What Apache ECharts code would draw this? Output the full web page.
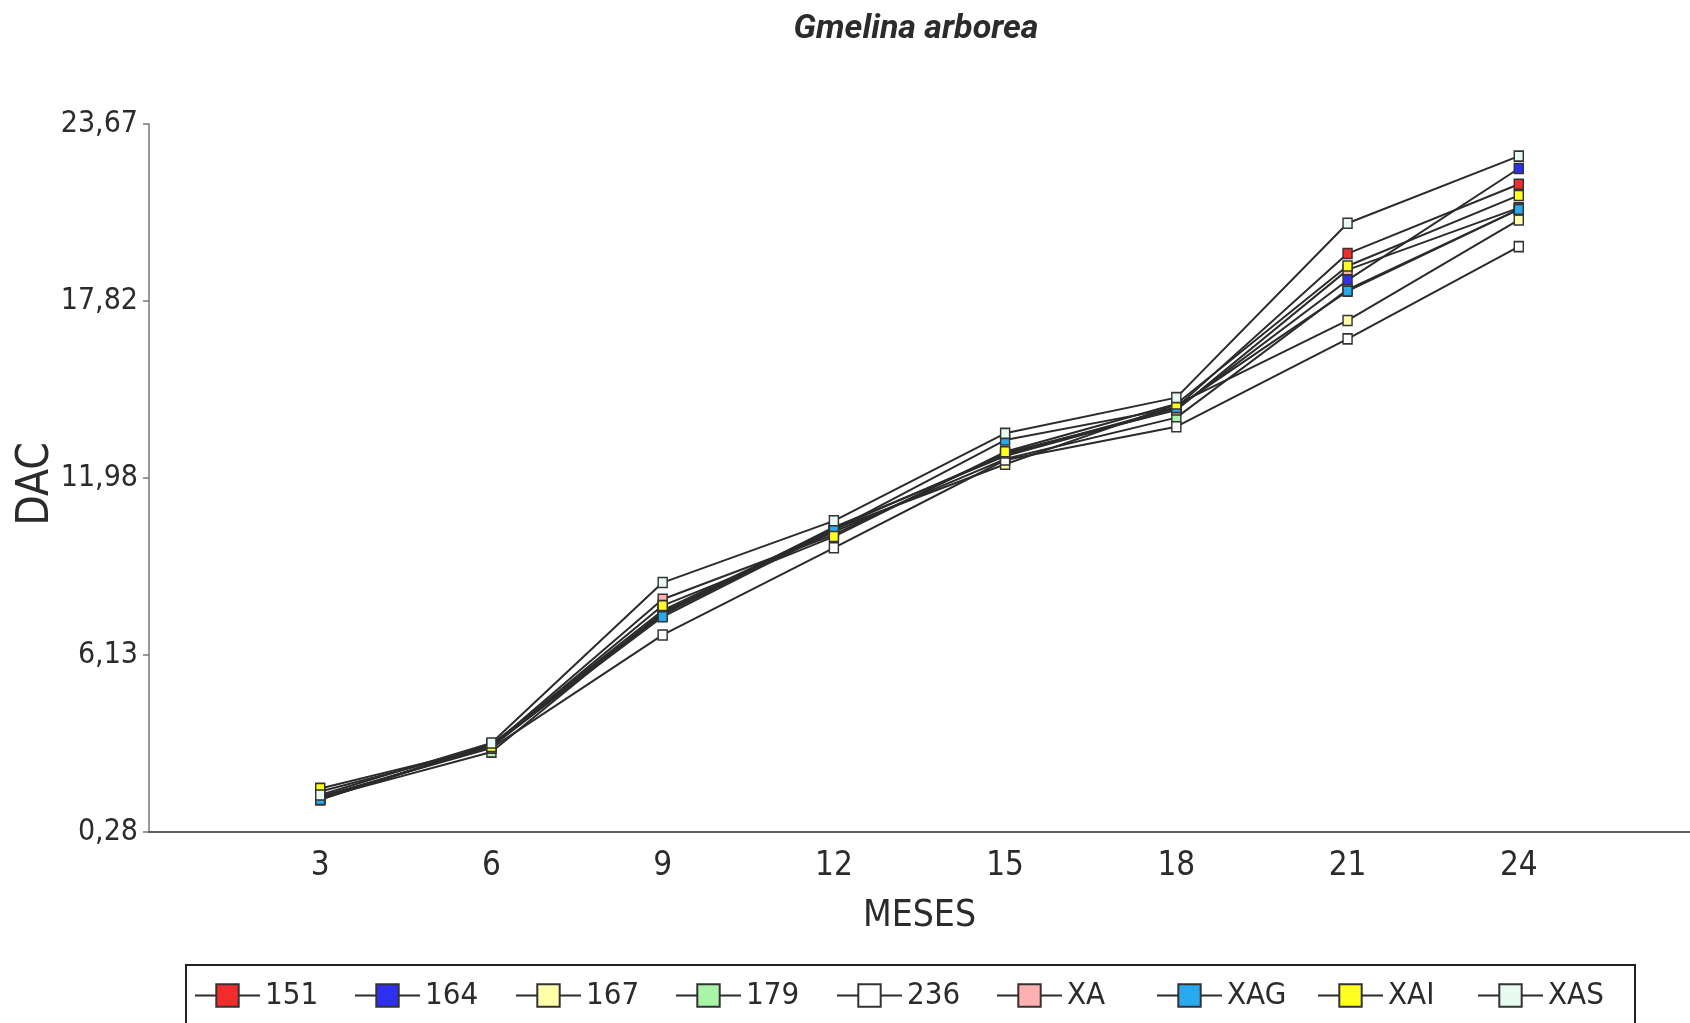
<!DOCTYPE html>
<html>
<head>
<meta charset="utf-8">
<title>Gmelina arborea</title>
<script src="https://cdn.jsdelivr.net/npm/echarts@6/dist/echarts.min.js"></script>
<style>
  html, body { margin: 0; padding: 0; background: #fff; }
  #chart { width: 1690px; height: 1023px; }
</style>
</head>
<body>
<div id="chart"></div>
<script>
// Months of measurement
const months = [3, 6, 9, 12, 15, 18, 21, 24];

// DAC by clone / treatment
const s151 = [1.40, 3.15, 7.60, 10.30, 12.75, 14.30, 19.39, 21.68];
const s164 = [1.35, 3.18, 7.50, 10.35, 12.70, 14.25, 18.51, 22.20];
const s167 = [1.62, 3.10, 7.45, 10.29, 12.43, 14.40, 17.18, 20.50];
const s179 = [1.40, 2.92, 7.55, 10.20, 12.60, 13.97, 18.20, 20.85];
const s236 = [1.45, 3.05, 6.79, 9.67, 12.57, 13.67, 16.57, 19.62];
const sXA  = [1.38, 3.12, 7.97, 10.10, 12.80, 14.22, 18.85, 20.90];
const sXAG = [1.35, 3.15, 7.39, 10.25, 13.23, 14.30, 18.15, 20.85];
const sXAI = [1.72, 3.10, 7.76, 10.04, 12.84, 14.42, 18.98, 21.31];
const sXAS = [1.50, 3.22, 8.52, 10.56, 13.45, 14.63, 20.39, 22.61];

const seriesNames = ['151', '164', '167', '179', '236', 'XA', 'XAG', 'XAI', 'XAS'];
const seriesValues = [s151, s164, s167, s179, s236, sXA, sXAG, sXAI, sXAS];
const seriesColors = ['#f22b2b', '#2f2ff2', '#ffffaa', '#a8f5a8', '#ffffff', '#ffb0b0', '#2aaaee', '#ffff22', '#e8fbf0'];

// Axis ticks
const yTicks = [0.28, 6.13, 11.98, 17.82, 23.67];
const xTicks = [3, 6, 9, 12, 15, 18, 21, 24];

const FONT = '"DejaVu Sans Condensed", "Liberation Sans Narrow", sans-serif';
const INK = '#2b2b2b';

const chart = echarts.init(document.getElementById('chart'), null, { renderer: 'canvas' });

const series = seriesNames.map((name, i) => ({
  name: name,
  type: 'line',
  data: months.map((m, j) => [m, seriesValues[i][j]]),
  symbol: 'path://M0,0H15V22H0Z',
  symbolSize: [9, 10],
  showSymbol: true,
  lineStyle: { color: INK, width: 2 },
  itemStyle: { color: seriesColors[i], borderColor: '#333', borderWidth: 1.5 },
  emphasis: { disabled: true },
  animation: false,
  z: 2 + i
}));

// One legend entry per slot so every entry gets the same width in the key box
const LEGEND_X0 = 194;
const LEGEND_STEP = 160.4;
const legends = seriesNames.map((name, i) => ({
  data: [name],
  orient: 'horizontal',
  left: Math.round(LEGEND_X0 + i * LEGEND_STEP),
  top: 980,
  padding: 0,
  itemWidth: 65,
  itemHeight: 28,
  itemTextGap: 3,
  symbolKeepAspect: true,
  selectedMode: false,
  textStyle: { fontFamily: FONT, fontSize: 31, color: INK }
}));

chart.setOption({
  backgroundColor: '#ffffff',
  animation: false,
  title: {
    text: 'Gmelina arborea',
    left: 916,
    textAlign: 'center',
    top: 12,
    padding: 0,
    textStyle: { fontFamily: 'Roboto, sans-serif', fontSize: 34, fontWeight: 'bold', fontStyle: 'italic', color: INK }
  },
  grid: { left: 149, right: 0, top: 124, bottom: 191, containLabel: false, outerBoundsMode: 'none' },
  xAxis: {
    type: 'value',
    min: 0,
    max: 27,
    name: 'MESES',
    nameLocation: 'middle',
    nameGap: 66,
    nameMoveOverlap: false,
    nameTextStyle: { fontFamily: FONT, fontSize: 37, color: INK },
    axisLine: { show: true, lineStyle: { color: INK, width: 1.5 } },
    axisTick: { show: false },
    splitLine: { show: false },
    axisLabel: {
      customValues: xTicks,
      margin: 18,
      fontFamily: FONT,
      fontSize: 33,
      color: INK
    }
  },
  yAxis: {
    type: 'value',
    min: 0.28,
    max: 23.67,
    name: 'DAC',
    nameLocation: 'middle',
    nameGap: 90,
    nameMoveOverlap: false,
    nameTextStyle: { fontFamily: FONT, fontSize: 44, color: INK, padding: [0, 12, 0, 0] },
    axisLine: { show: true, lineStyle: { color: '#777', width: 1.5 } },
    axisTick: { show: true, customValues: yTicks, length: 6, inside: false, lineStyle: { color: '#777', width: 1.5 } },
    splitLine: { show: false },
    axisLabel: {
      customValues: yTicks,
      margin: 11,
      fontFamily: FONT,
      fontSize: 30,
      color: INK,
      formatter: v => v.toFixed(2).replace('.', ',')
    }
  },
  legend: legends,
  graphic: [{
    type: 'rect',
    silent: true,
    shape: { x: 186, y: 965, width: 1449, height: 100 },
    style: { fill: 'none', stroke: '#222', lineWidth: 2 }
  }],
  series: series
});
</script>
</body>
</html>
